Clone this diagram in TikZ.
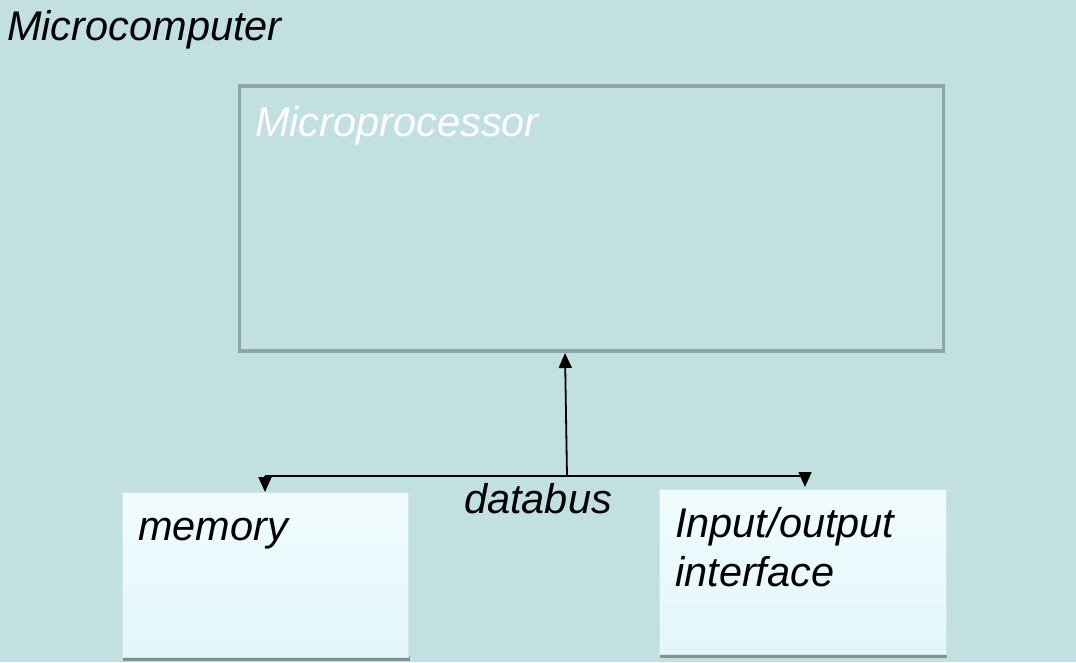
\documentclass[tikz,border=0pt]{standalone}
\usepackage{fontspec}
\setmainfont{Liberation Sans}
\usetikzlibrary{arrows.meta}
\definecolor{bg}{RGB}{194,223,225}
\definecolor{frame}{RGB}{143,164,167}
\definecolor{boxtop}{RGB}{241,252,254}
\definecolor{boxbot}{RGB}{226,247,251}
\definecolor{shadow}{RGB}{130,145,147}
\tikzset{
  lbl/.style={anchor=base west, inner sep=0pt, font=\fontsize{41.5}{48}\selectfont\itshape},
  unitbox/.style={anchor=north west, inner sep=0pt, top color=boxtop, bottom color=boxbot, draw=boxbot!80!frame, line width=0.6pt},
  bus/.style={line width=1.8pt, black},
  tip/.style={-{Triangle[length=15pt,width=13pt]}},
}
\begin{document}
\begin{tikzpicture}[x=1pt,y=-1pt]
\useasboundingbox[fill=bg] (0,0) rectangle (1076,662);
% shadows
\fill[shadow] (123,656) rectangle (410,661);
\fill[shadow] (660,653) rectangle (947,658);
% boxes
\node[unitbox, minimum width=286pt, minimum height=165pt] (mem) at (122,492) {};
\node[unitbox, minimum width=287pt, minimum height=165pt] (io) at (659,489) {};
\node[draw=frame, line width=3.5pt, anchor=north west, inner sep=0pt, minimum width=704pt, minimum height=265pt] (proc) at (237.5,84) {};
% texts
\node[lbl] (tcomp) at (7,40) {Microcomputer};
\node[lbl, text=white] (tproc) at (255,136) {Microprocessor};
\node[lbl] (tmem) at (138,540) {memory};
\node[lbl] (tio1) at (675,537) {Input/output};
\node[lbl] (tio2) at (675,586) {interface};
\node[lbl] (tbus) at (464,513) {databus};
% connectors
\coordinate (j) at (567,476);
\coordinate (jl) at (265,476);
\coordinate (jr) at (805,476);
\coordinate (ptop) at (565,353);
\draw[bus, tip] (j) -- (ptop);
\draw[bus] (jl) -- (jr);
\draw[bus, tip] (jl) -- (jl |- mem.north) ;
\draw[bus, tip] (jr) -- ([yshift=2pt]jr |- io.north);
\end{tikzpicture}
\end{document}
